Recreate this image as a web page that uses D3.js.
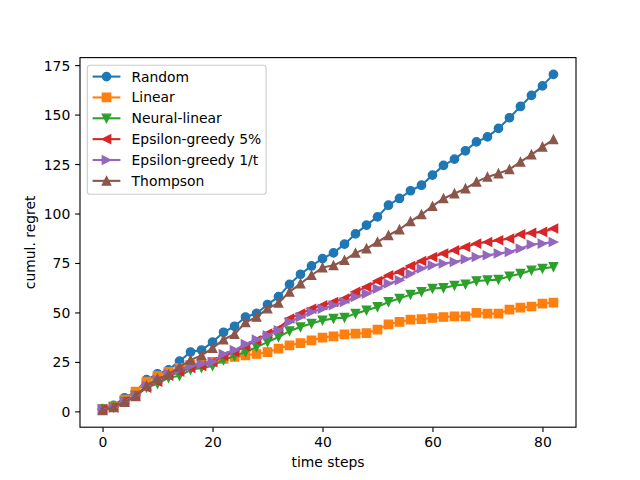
<!DOCTYPE html>
<html>
<head>
<meta charset="utf-8">
<script src="https://cdn.jsdelivr.net/npm/d3@7"></script>
<style>
  html, body { margin: 0; padding: 0; background: #fff; }
  svg { display: block; }
  text { font-family: "DejaVu Sans", sans-serif; }
</style>
</head>
<body>
<svg id="chart" width="640" height="480"></svg>
<script>
const steps = [0, 2, 4, 6, 8, 10, 12, 14, 16, 18, 20, 22, 24, 26, 28, 30, 32, 34, 36, 38, 40,
               42, 44, 46, 48, 50, 52, 54, 56, 58, 60, 62, 64, 66, 68, 70, 72, 74, 76, 78, 80, 82];
const randomRegret = [1.4, 3, 6.9, 9.8, 16, 19, 21, 25.4, 30, 31, 35, 40, 43, 47.7, 49.5, 54, 58, 64.2, 69.3, 73.5, 77.2,
                      80.1, 84.5, 89.7, 94.1, 98.3, 104.2, 107.6, 111.5, 114.3, 119.4, 124.3, 127.5, 131.7, 136.2, 138.7, 143, 148.4, 154.1, 159.7, 164.5, 170.3];
const linearRegret = [1, 2.5, 6, 10, 15, 18, 20, 22, 23.5, 24, 25, 26.5, 27.5, 28.3, 29, 30, 31.7, 33.4, 34.5, 35.9, 37.3,
                      37.9, 38.9, 39.3, 39.6, 41.3, 44, 45.2, 46.4, 46.6, 47.2, 47.7, 48, 48, 49.8, 49.4, 49.4, 51.4, 52.4, 53, 54.5, 55];
const neuralRegret = [1, 2, 5, 8, 12, 14, 17, 18, 21, 22, 23, 26, 28, 30, 32.5, 35, 37.6, 40.6, 42.6, 44.4, 46,
                      46.9, 47.4, 49.4, 51.1, 52.8, 55.3, 57, 59, 60.4, 62.1, 62.4, 63.6, 64.2, 65.9, 66.3, 66.6, 68.3, 69.6, 71.3, 72.2, 73];
const eps5Regret = [1, 2, 5, 8, 12, 15, 18, 20, 22, 23, 25, 28, 30, 33, 35.9, 39.3, 41.8, 46.9, 49.4, 51.9, 53.6,
                    55.3, 57, 60.4, 62.9, 65.9, 68.8, 70.5, 73.5, 76, 78, 79.8, 81.4, 83.1, 84.8, 85.6, 86.5, 87.3, 89.5, 90.2, 90.7, 92.4];
const eps1tRegret = [1, 2, 5, 8, 13, 16, 19, 21, 23, 24, 25, 29, 31, 34, 36.3, 38.4, 41, 45.2, 47.7, 50.2, 51.9,
                     53.6, 55.3, 57.8, 59.5, 62, 64.6, 66.3, 69.5, 72.2, 73.8, 74.7, 75.5, 76.9, 78, 78.9, 79.8, 80.6, 82.3, 84.3, 84.8, 85.6];
const thompsonRegret = [0.5, 2, 4.7, 7.6, 13, 16.5, 18.7, 22.4, 26, 28.3, 32, 36.3, 39, 45, 47.7, 51.9, 54.8, 60.4, 64.6, 68.8, 72.7,
                        73.8, 76.4, 80.1, 82.3, 85.6, 89, 91.9, 96, 99.5, 103.7, 107.6, 110.1, 112.6, 116, 118.5, 120.2, 122.3, 126.1, 129.8, 133.7, 137.4];

const seriesNames = ["Random", "Linear", "Neural-linear", "Epsilon-greedy 5%", "Epsilon-greedy 1/t", "Thompson"];
const seriesValues = [randomRegret, linearRegret, neuralRegret, eps5Regret, eps1tRegret, thompsonRegret];
const seriesColors = ["#1f77b4", "#ff7f0e", "#2ca02c", "#d62728", "#9467bd", "#8c564b"];
const seriesMarkers = ["circle", "square", "tri-down", "tri-left", "tri-right", "tri-up"];
const xTicks = [0, 20, 40, 60, 80];
const yTicks = [0, 25, 50, 75, 100, 125, 150, 175];
const xLabel = "time steps";
const yLabel = "cumul. regret";

const W = 640, H = 480;
const L = 80, R = 576, T = 57.6, B = 427.2;
const svg = d3.select("#chart");

// autoscale like matplotlib: 5% margins
const xExt = d3.extent(steps);
const xPad = (xExt[1] - xExt[0]) * 0.05;
const allY = seriesValues.flat();
const yExt = d3.extent(allY);
const yPad = (yExt[1] - yExt[0]) * 0.05;
const x = d3.scaleLinear().domain([xExt[0] - xPad, xExt[1] + xPad]).range([L, R]);
const y = d3.scaleLinear().domain([yExt[0] - yPad, yExt[1] + yPad]).range([B, T]);

const FS = 13.9;
const ms = 8.33; // marker size px

function markerPath(type) {
  const h = ms / 2;
  switch (type) {
    case "circle": return d3.symbol(d3.symbolCircle, Math.PI * h * h)();
    case "square": return `M${-h},${-h}H${h}V${h}H${-h}Z`;
    case "tri-up": return `M0,${-h}L${h},${h}L${-h},${h}Z`;
    case "tri-down": return `M0,${h}L${h},${-h}L${-h},${-h}Z`;
    case "tri-left": return `M${-h},0L${h},${-h}L${h},${h}Z`;
    case "tri-right": return `M${h},0L${-h},${-h}L${-h},${h}Z`;
  }
}

// axes background
svg.append("rect").attr("x", 0).attr("y", 0).attr("width", W).attr("height", H).attr("fill", "#fff");

const clip = svg.append("defs").append("clipPath").attr("id", "clip");
clip.append("rect").attr("x", L).attr("y", T).attr("width", R - L).attr("height", B - T);

const plot = svg.append("g");
const line = d3.line().x((d, i) => x(steps[i])).y(d => y(d));

seriesValues.forEach((vals, si) => {
  const g = plot.append("g");
  g.append("path").datum(vals)
    .attr("d", line)
    .attr("fill", "none")
    .attr("stroke", seriesColors[si])
    .attr("stroke-width", 2.08)
    .attr("stroke-linejoin", "round")
    .attr("stroke-linecap", "square");
  g.selectAll("path.m").data(vals).enter().append("path")
    .attr("class", "m")
    .attr("d", markerPath(seriesMarkers[si]))
    .attr("transform", (d, i) => `translate(${x(steps[i])},${y(d)})`)
    .attr("fill", seriesColors[si])
    .attr("stroke", seriesColors[si])
    .attr("stroke-width", 1.39)
    .attr("stroke-linejoin", "miter");
});

// axes
const xAxis = d3.axisBottom(x).tickValues(xTicks).tickSize(4.86).tickPadding(4.86).tickFormat(d3.format("d"));
const yAxis = d3.axisLeft(y).tickValues(yTicks).tickSize(4.86).tickPadding(4.86).tickFormat(d3.format("d"));

const gx = svg.append("g").attr("transform", `translate(0,${B})`).call(xAxis);
const gy = svg.append("g").attr("transform", `translate(${L},0)`).call(yAxis);
[gx, gy].forEach(g => {
  g.select(".domain").remove();
  g.selectAll(".tick line").attr("stroke", "#000").attr("stroke-width", 1.11);
  g.selectAll(".tick text").attr("fill", "#000").attr("font-size", FS).attr("font-family", "DejaVu Sans");
});
gx.selectAll(".tick text").attr("dy", "0.73em");
gy.selectAll(".tick text").attr("dy", "0.36em");

// spines
svg.append("rect").attr("x", L).attr("y", T).attr("width", R - L).attr("height", B - T)
  .attr("fill", "none").attr("stroke", "#000").attr("stroke-width", 1.11);

// axis labels
svg.append("text").attr("x", (L + R) / 2).attr("y", 466.5).attr("text-anchor", "middle")
  .attr("font-size", FS).attr("fill", "#000").text(xLabel);
svg.append("text").attr("transform", `translate(34.5,${(T + B) / 2}) rotate(-90)`).attr("text-anchor", "middle")
  .attr("font-size", FS).attr("fill", "#000").text(yLabel);

// legend
const lg = svg.append("g");
const lgX = 87.3, lgY = 65.2, lgW = 178.8, lgH = 129;
lg.append("rect").attr("x", lgX).attr("y", lgY).attr("width", lgW).attr("height", lgH)
  .attr("rx", 2.8).attr("ry", 2.8)
  .attr("fill", "#fff").attr("fill-opacity", 0.8)
  .attr("stroke", "#cccccc").attr("stroke-width", 1.11);
const rowY0 = 76.6, rowDy = 20.85;
seriesNames.forEach((name, i) => {
  const cy = rowY0 + i * rowDy;
  lg.append("line").attr("x1", 92.6).attr("x2", 120.4).attr("y1", cy).attr("y2", cy)
    .attr("stroke", seriesColors[i]).attr("stroke-width", 2.08);
  lg.append("path").attr("d", markerPath(seriesMarkers[i]))
    .attr("transform", `translate(106.5,${cy})`)
    .attr("fill", seriesColors[i]).attr("stroke", seriesColors[i]).attr("stroke-width", 1.39);
  lg.append("text").attr("x", 131.6).attr("y", cy).attr("dy", "0.36em")
    .attr("font-size", FS).attr("fill", "#000").text(name);
});
</script>
</body>
</html>
